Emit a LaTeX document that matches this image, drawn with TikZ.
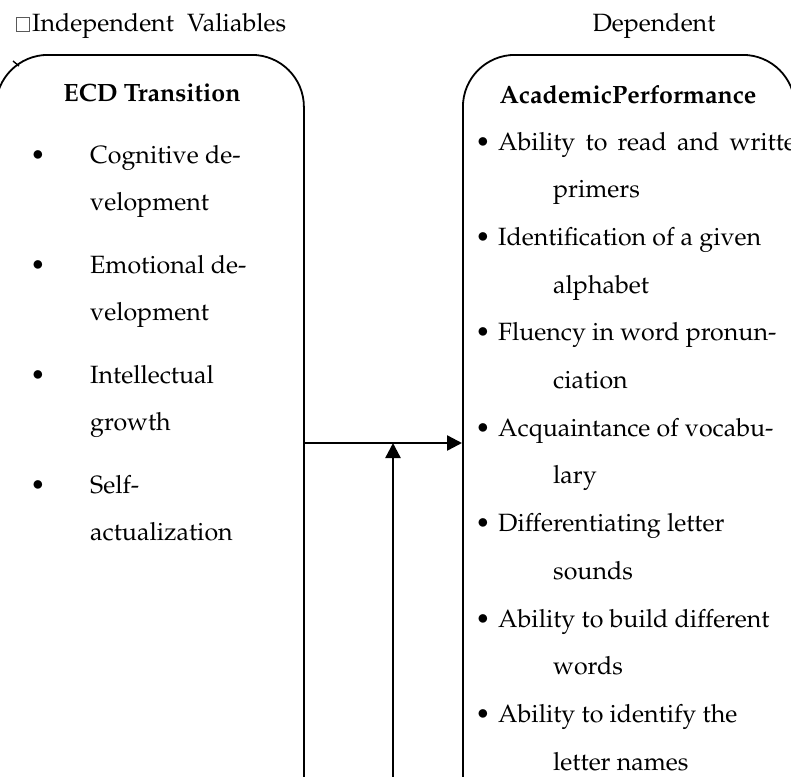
\documentclass[tikz,border=0pt]{standalone}
\usepackage[T1]{fontenc}
\renewcommand{\rmdefault}{ppl}
\usetikzlibrary{arrows.meta}
\begin{document}
\begin{tikzpicture}[x=1pt,y=-1pt,
  txt/.style={inner sep=0pt, anchor=base west, font=\fontsize{25}{30}\selectfont},
  ctxt/.style={inner sep=0pt, anchor=base, font=\fontsize{25}{30}\selectfont},
  head/.style={inner sep=0pt, anchor=base, font=\fontsize{25}{30}\selectfont\bfseries},
  bul/.style={inner sep=0pt, anchor=base, font=\fontsize{25}{30}\selectfont},
  varbox/.style={draw, line width=1.8pt, rounded corners=52pt, rectangle, anchor=north west, inner sep=0pt},
  conn/.style={line width=2.4pt, -{Triangle[length=15pt,width=15pt]}}]
\useasboundingbox (0,0) rectangle (791,776);
\clip (0,0) rectangle (791,776);
% titles
\draw[line width=0.6pt, gray!70!black] (16.5,17) rectangle (29.5,31);
\node[txt] (indep) at (32,32) {Independent\hspace{7pt} Valiables};
\node[ctxt] (dep) at (654,32) {Dependent};
% boxes
\node[varbox, minimum width=308pt, minimum height=800pt] (ecd) at (-5,54) {};
\node[varbox, minimum width=332pt, minimum height=800pt] (acad) at (462,54) {};
\draw[line width=1.4pt] (13,61) -- (19,66);
% left content
\node[head] (ecdt) at (152,101) {ECD Transition};
\foreach \y/\t/\u [count=\i] in {163/Cognitive de-/velopment, 273/Emotional de-/velopment, 383/Intellectual/growth, 493/Self-/actualization}{
  \node[bul] (lb\i) at (38,\y) {\textbullet};
  \node[txt] (la\i) at (90,\y) {\t};
  \node[txt] (lc\i) at (90,\y+47) {\u};
}
% right content
\node[head] (acadt) at (628,103) {AcademicPerformance};
\foreach \t/\u [count=\i] in {{Ability\hspace{4pt} to\hspace{4pt} read\hspace{4pt} and\hspace{4pt} writte}/primers, Identification of a given/alphabet, Fluency in word pronun-/ciation, Acquaintance of vocabu-/lary, Differentiating letter/sounds, Ability to build different/words, Ability to identify the/letter names}{
  \pgfmathsetmacro{\yy}{150+(\i-1)*95.4}
  \node[bul] (rb\i) at (483,\yy) {\textbullet};
  \node[txt] (ra\i) at (498,\yy) {\t};
  \node[txt] (rc\i) at (553,\yy+47.7) {\u};
}
% connectors
\coordinate (hy) at (0,443);
\coordinate (vbot) at (393,790);
\draw[conn] (ecd.east |- hy) -- (acad.west |- hy);
\draw[conn] (vbot) -- (vbot |- hy);
\end{tikzpicture}
\end{document}
